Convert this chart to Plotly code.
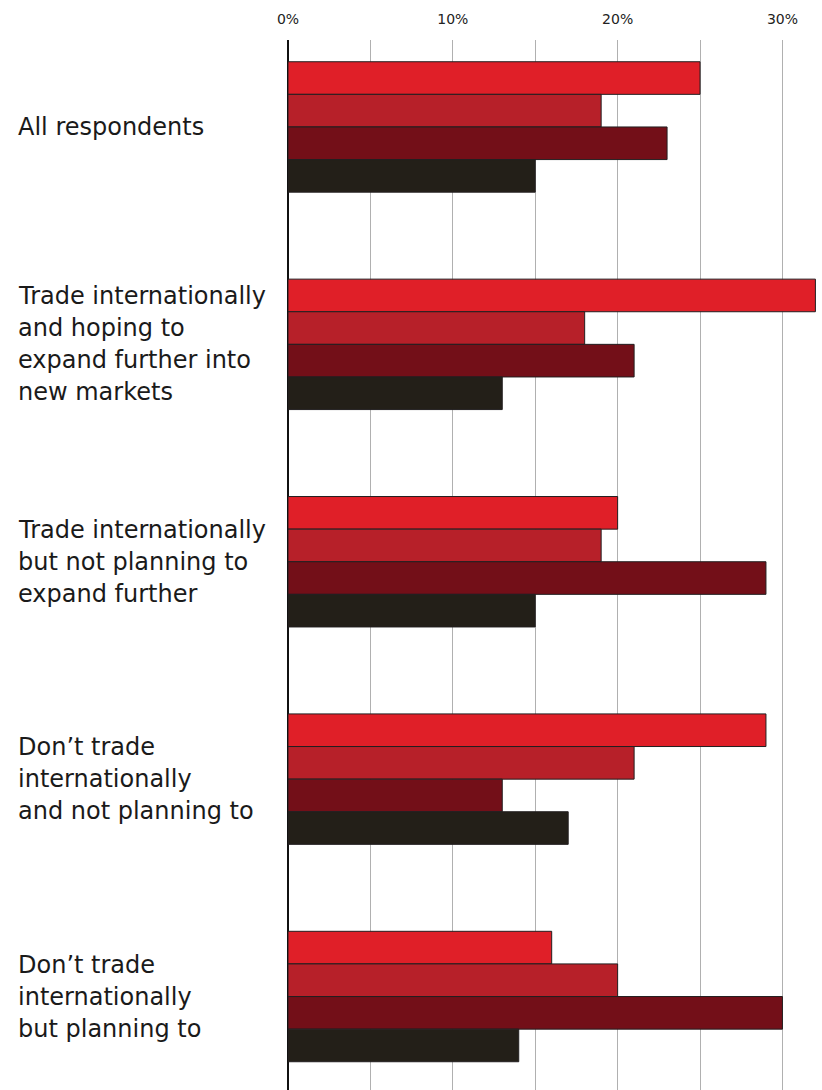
import plotly.graph_objects as go

# Respondent groups (top to bottom) and the four answer series
categories = [
    "All respondents",
    "Trade internationally<br>and hoping to<br>expand further into<br>new markets",
    "Trade internationally<br>but not planning to<br>expand further",
    "Don’t trade<br>internationally<br>and not planning to",
    "Don’t trade<br>internationally<br>but planning to",
]
series_names = ["Series 1", "Series 2", "Series 3", "Series 4"]
series_1 = [25, 32, 20, 29, 16]
series_2 = [19, 18, 19, 21, 20]
series_3 = [23, 21, 29, 13, 30]
series_4 = [15, 13, 15, 17, 14]
tick_values = [0, 10, 20, 30]
tick_labels = ["0%", "10%", "20%", "30%"]

colors = ["#e01f28", "#b72029", "#730f18", "#231f18"]
all_series = [series_1, series_2, series_3, series_4]

fig = go.Figure()
for name, vals, col in zip(series_names, all_series, colors):
    fig.add_trace(go.Bar(
        y=categories, x=vals, name=name, orientation="h",
        marker=dict(color=col, line=dict(color="#231f20", width=1)),
        hoverinfo="x+y",
    ))

# Left-aligned group labels, one annotation per line for wider leading
line_gap = 32
for cat in categories:
    lines = cat.split("<br>")
    n = len(lines)
    for i, line in enumerate(lines):
        fig.add_annotation(
            x=0, xref="paper", xanchor="left",
            y=cat, yref="y", yanchor="middle",
            xshift=-272,
            yshift=((n - 1) / 2 - i) * line_gap,
            text=line, showarrow=False, align="left",
            font=dict(family="DejaVu Sans, sans-serif", size=24, color="#1a1a1a"),
        )

fig.update_layout(
    width=822, height=1090,
    margin=dict(l=288, r=0, t=40, b=0),
    paper_bgcolor="white", plot_bgcolor="white",
    barmode="group", bargap=0.4, bargroupgap=0,
    showlegend=False,
    xaxis=dict(
        side="top", range=[0, 32.4],
        tickvals=tick_values, ticktext=tick_labels,
        tickfont=dict(family="DejaVu Sans, sans-serif", size=14, color="#222222"),
        ticks="", ticklabelstandoff=12,
        showgrid=True, gridcolor="#b0b0b0", gridwidth=1,
        minor=dict(dtick=5, showgrid=True, gridcolor="#b0b0b0", gridwidth=1),
        zeroline=True, zerolinecolor="#111111", zerolinewidth=1.5,
        showline=False, fixedrange=True,
    ),
    yaxis=dict(
        range=[4.43, -0.40], showticklabels=False, showgrid=False,
        zeroline=False, showline=False, ticks="", fixedrange=True,
    ),
)

fig.write_html("out.html")
